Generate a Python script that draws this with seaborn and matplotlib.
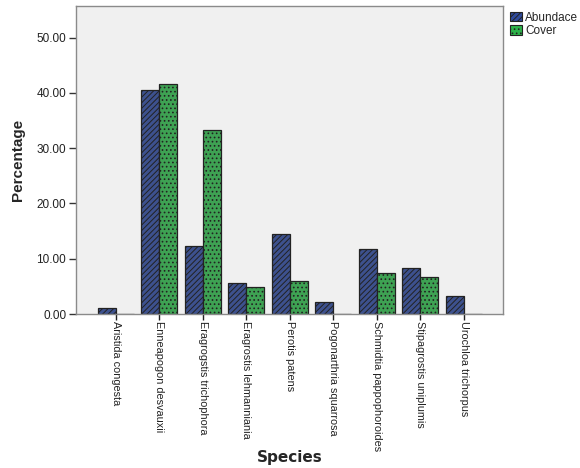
import matplotlib
matplotlib.use("Agg")
import matplotlib.pyplot as plt
import seaborn as sns
import pandas as pd
from matplotlib.patches import Patch
from matplotlib.ticker import FormatStrFormatter

# values (percent)
species = ["Aristida congesta", "Enneapogon desvauxii", "Eragrogstis trichophora",
           "Eragrostis lehmanniania", "Perotis patens", "Pogonarthria squarrosa",
           "Schmidtia pappophoroides", "Stipagrostis uniplumis", "Urochloa trichorpus"]
abundance = [1.0, 40.5, 12.35, 5.55, 14.5, 2.2, 11.75, 8.37, 3.3]
cover = [0.0, 41.6, 33.3, 4.95, 6.0, 0.0, 7.47, 6.7, 0.0]
series = ["Abundace", "Cover"]
colors = ["#2f4a9c", "#2db34a"]
hatches = ["//////", "...."]

df = pd.DataFrame({"Species": species, series[0]: abundance, series[1]: cover})
long = df.melt(id_vars="Species", var_name="Measure", value_name="Percentage")

sns.set_style("white")
plt.rcParams["font.family"] = ["Liberation Sans", "DejaVu Sans"]
plt.rcParams["hatch.linewidth"] = 0.7
plt.rcParams["hatch.color"] = "#1a1a1a"

fig = plt.figure(figsize=(5.8, 4.68), dpi=100)
ax = fig.add_axes([0.131, 0.329, 0.736, 0.658])
sns.barplot(data=long, x="Species", y="Percentage", hue="Measure",
            palette=colors, width=0.83, edgecolor="#222222", linewidth=0.9,
            ax=ax, legend=False)

for cont, h in zip(ax.containers, hatches):
    for bar in cont:
        bar.set_hatch(h)

ax.set_facecolor("#f0f0f0")
for s in ax.spines.values():
    s.set_color("#8a8a8a")
    s.set_linewidth(1.0)
ax.set_ylim(0, 55.7)
ax.set_xlim(-0.92, 8.9)
ax.set_yticks([0, 10, 20, 30, 40, 50])
ax.yaxis.set_major_formatter(FormatStrFormatter("%.2f"))
ax.tick_params(axis="y", left=True, length=5, width=1, color="#333333",
               labelsize=8.5, labelcolor="#222222", pad=2)
ax.tick_params(axis="x", bottom=True, length=4, width=1, color="#222222",
               labelsize=7.8, labelcolor="#222222", pad=1)
plt.setp(ax.get_xticklabels(), rotation=270, ha="center", va="top")
ax.set_ylabel("Percentage", fontsize=11, fontweight="bold", labelpad=8)
ax.set_xlabel("Species", fontsize=11, fontweight="bold",
              family=["DejaVu Sans"])
ax.xaxis.set_label_coords(0.5, -0.44)

handles = [Patch(facecolor=c, edgecolor="#222222", hatch=h, linewidth=0.8)
           for c, h in zip(colors, hatches)]
ax.legend(handles, series, loc="upper left", bbox_to_anchor=(1.0, 1.005),
          frameon=False, fontsize=8.5, handlelength=1.0, handleheight=0.9,
          handletextpad=0.3, labelspacing=0.1, borderaxespad=0.2)

fig.savefig("out.png", dpi=100, facecolor="white")
